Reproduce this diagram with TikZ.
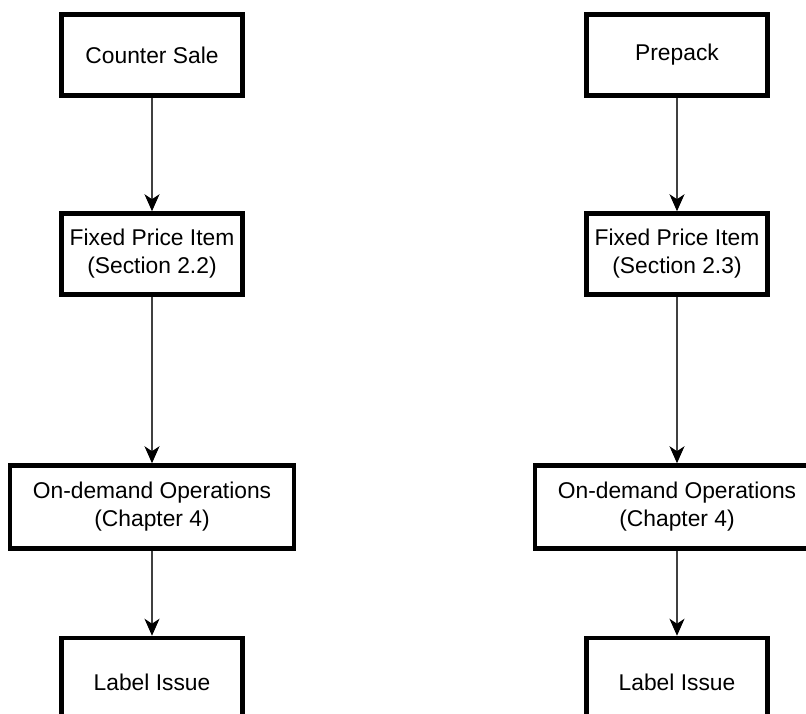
\documentclass[tikz,border=0pt]{standalone}
\usepackage{fontspec}
\setmainfont{Liberation Sans}
\usetikzlibrary{arrows.meta}

\begin{document}
\begin{tikzpicture}[
    x=1pt, y=-1pt,
    node distance=199pt,
    box/.style={rectangle, draw, line width=4.5pt, minimum width=181pt, minimum height=81pt,
        inner sep=0pt, text centered, align=center, font=\fontsize{22.8}{28}\selectfont},
    widebox/.style={box, minimum width=284pt, minimum height=83pt},
    flow/.style={-{Stealth[length=17pt, width=15pt, inset=5pt, color=black]}, line width=1.3pt, draw=black!75}
]
    \clip (0,0) rectangle (806,714);

    % Counter sale column
    \node[box] at (152,55) (sale) {Counter Sale};
    \node[box, below of=sale] (fixedA) {Fixed Price Item\\(Section 2.2)};
    \node[widebox, below of=fixedA, yshift=-54pt] (opsA) {On-demand Operations\\(Chapter 4)};
    \node[box, minimum height=88pt, below of=opsA, yshift=24pt] (labelA) {Label Issue};

    % Prepack column
    \node[box, right of=sale, xshift=326pt] (prepack) {Prepack};
    \node[box, below of=prepack] (fixedB) {Fixed Price Item\\(Section 2.3)};
    \node[widebox, below of=fixedB, yshift=-54pt] (opsB) {On-demand Operations\\(Chapter 4)};
    \node[box, minimum height=88pt, below of=opsB, yshift=24pt] (labelB) {Label Issue};

    % Connections
    \draw[flow] (sale) -- (fixedA);
    \draw[flow] (fixedA) -- (opsA);
    \draw[flow] (opsA) -- (labelA);
    \draw[flow] (prepack) -- (fixedB);
    \draw[flow] (fixedB) -- (opsB);
    \draw[flow] (opsB) -- (labelB);
\end{tikzpicture}
\end{document}
